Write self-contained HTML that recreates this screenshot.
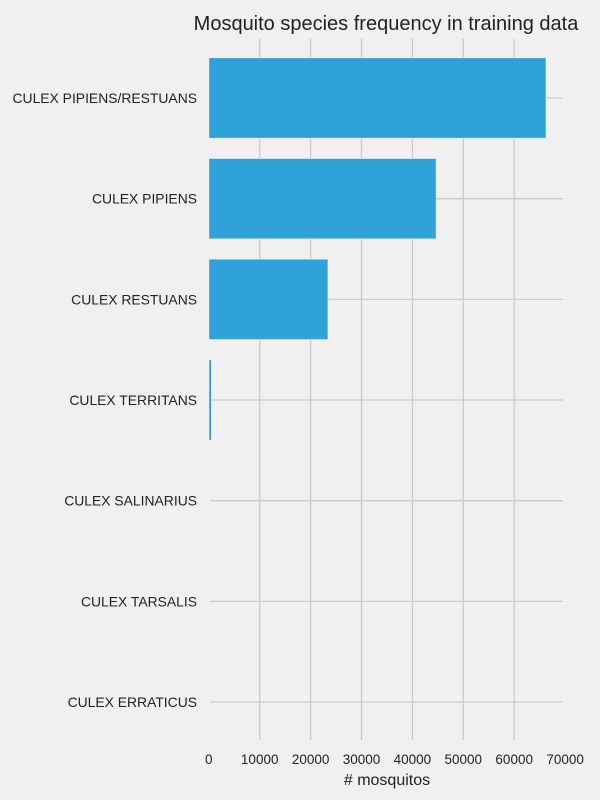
<!DOCTYPE html>
<html><head><meta charset="utf-8"><style>
html,body{margin:0;padding:0;background:#f0f0f0;}
svg{display:block;font-family:"Liberation Sans",sans-serif;}
</style></head><body>
<svg id="chart" width="600" height="800" viewBox="0 0 600 800">
<rect width="600" height="800" fill="#f0f0f0"/>
<text x="386" y="30" text-anchor="middle" font-size="20" fill="#222">Mosquito species frequency in training data</text>
<g id="grid"></g><g id="bars"></g><g id="labels"></g>
<text x="387" y="785" text-anchor="middle" font-size="16" fill="#222"># mosquitos</text>
</svg>
<script>
const categories = ["CULEX PIPIENS/RESTUANS","CULEX PIPIENS","CULEX RESTUANS","CULEX TERRITANS","CULEX SALINARIUS","CULEX TARSALIS","CULEX ERRATICUS"];
const counts = [66268, 44671, 23431, 510, 145, 7, 7];
const xTicks = [0,10000,20000,30000,40000,50000,60000,70000];
const NS="http://www.w3.org/2000/svg";
const x0=208.8, xs=50.9/10000;
function X(v){return x0+v*xs;}
function Y(i){return 98+i*100.67;}
const grid=document.getElementById('grid'),bars=document.getElementById('bars'),labels=document.getElementById('labels');
function mk(tag,attrs,parent){const e=document.createElementNS(NS,tag);for(const k in attrs)e.setAttribute(k,attrs[k]);parent.appendChild(e);return e;}
xTicks.forEach(t=>{
  if(t>0&&t<70000){const l=mk('line',{x1:X(t),x2:X(t),y1:39,y2:740,stroke:'#cbcbcb','stroke-width':1.3},grid);
  
  }
  const tx=mk('text',{x:X(t),y:764,'text-anchor':'middle','font-size':13.5,fill:'#222'},labels);
  tx.textContent=t;
  
  
});
categories.forEach((c,i)=>{
  const l=mk('line',{x1:210,x2:563,y1:Y(i),y2:Y(i),stroke:'#cbcbcb','stroke-width':1.3},grid);
  
  
  const w=Math.max(X(counts[i])-x0,0);
  const r=mk('rect',{x:x0,y:Y(i)-40.3,width:w,height:80.6,fill:'#30a2da',stroke:'#f0f0f0','stroke-width':0.8},bars);
  
  
  const tx=mk('text',{x:197,y:Y(i)+5,'text-anchor':'end','font-size':13.9,fill:'#222'},labels);
  tx.textContent=c;
  
  
});
</script>
</body></html>
